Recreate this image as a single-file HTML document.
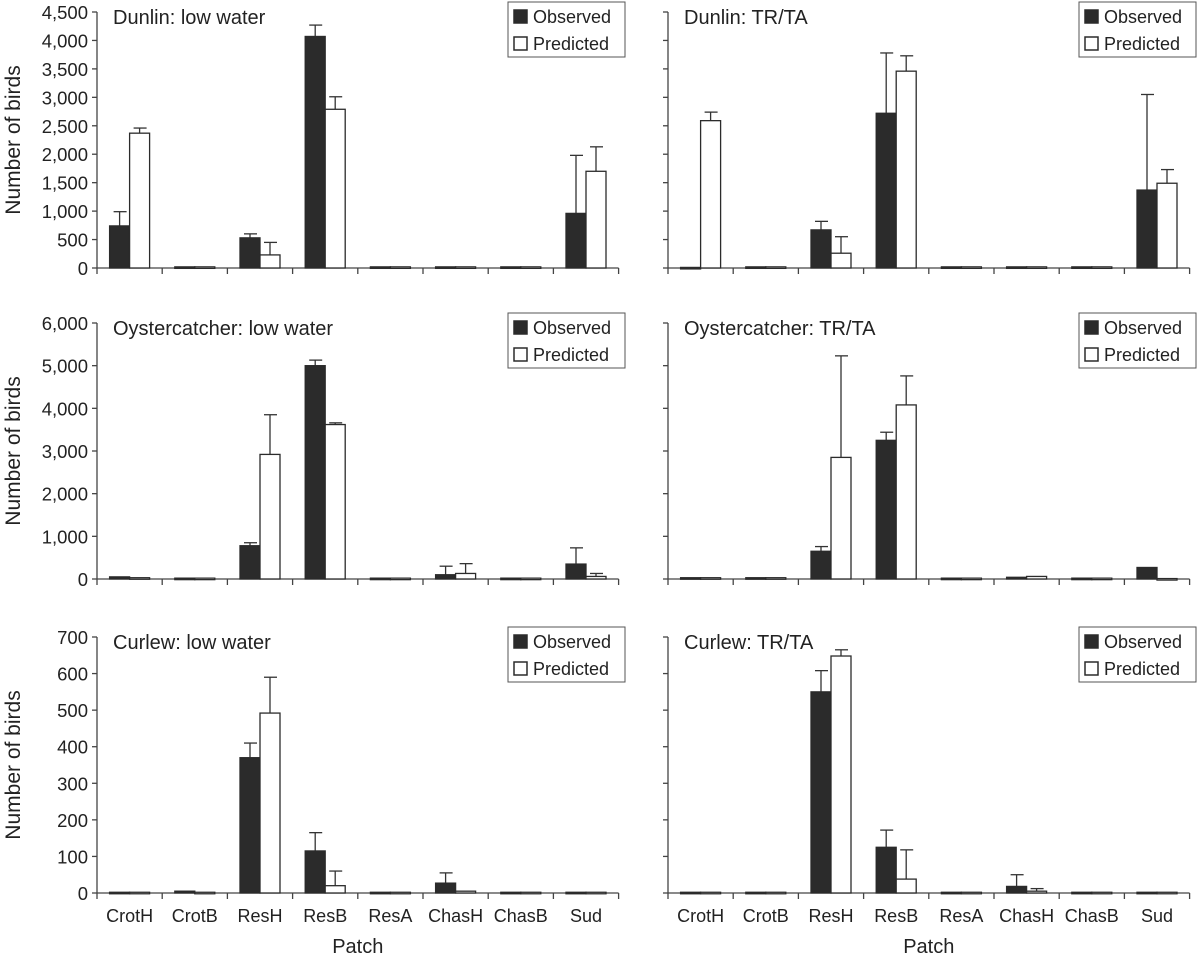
<!DOCTYPE html>
<html><head><meta charset="utf-8"><style>
body{margin:0;background:#fff;font-family:"Liberation Sans",Arial,sans-serif}
svg text{font-family:"Liberation Sans",Arial,sans-serif;fill:#222}
</style></head><body>
<svg id="c" width="1199" height="960"></svg>
<script>
const categories=["CrotH","CrotB","ResH","ResB","ResA","ChasH","ChasB","Sud"];
const dunlinLwObs=[740,20,530,4070,20,20,20,960];
const dunlinLwObsErr=[990,null,600,4270,null,null,null,1980];
const dunlinLwPred=[2370,20,230,2790,20,20,20,1700];
const dunlinLwPredErr=[2460,null,450,3010,null,null,null,2130];
const dunlinTrObs=[10,20,670,2720,20,20,20,1370];
const dunlinTrObsErr=[null,null,820,3780,null,null,null,3050];
const dunlinTrPred=[2590,20,260,3460,20,20,20,1490];
const dunlinTrPredErr=[2740,null,550,3730,null,null,null,1730];
const oysterLwObs=[50,20,780,5000,20,100,20,350];
const oysterLwObsErr=[null,null,850,5130,null,300,null,730];
const oysterLwPred=[30,20,2920,3620,20,130,20,60];
const oysterLwPredErr=[null,null,3850,3660,null,360,null,130];
const oysterTrObs=[30,30,650,3250,20,40,20,270];
const oysterTrObsErr=[null,null,760,3440,null,null,null,null];
const oysterTrPred=[30,30,2850,4080,20,60,20,10];
const oysterTrPredErr=[null,null,5230,4760,null,null,null,null];
const curlewLwObs=[2,5,370,115,2,27,2,2];
const curlewLwObsErr=[null,null,410,165,null,55,null,null];
const curlewLwPred=[2,2,492,20,2,5,2,2];
const curlewLwPredErr=[null,null,590,60,null,null,null,null];
const curlewTrObs=[2,2,550,125,2,18,2,2];
const curlewTrObsErr=[null,null,608,172,null,50,null,null];
const curlewTrPred=[2,2,648,38,2,5,2,2];
const curlewTrPredErr=[null,null,665,118,null,12,null,null];
const dunlinTicks=[0,500,1000,1500,2000,2500,3000,3500,4000,4500];
const oysterTicks=[0,1000,2000,3000,4000,5000,6000];
const curlewTicks=[0,100,200,300,400,500,600,700];

const svg=document.getElementById('c');
const NS='http://www.w3.org/2000/svg';
function mk(tag,attrs,parent){const e=document.createElementNS(NS,tag);for(const k in attrs)e.setAttribute(k,attrs[k]);(parent||svg).appendChild(e);return e;}
function fmt(v){return v.toLocaleString('en-US');}
const panels=[
 {x0:97,y0:268,y1:12,ticks:dunlinTicks,title:"Dunlin: low water",obs:dunlinLwObs,oe:dunlinLwObsErr,pred:dunlinLwPred,pe:dunlinLwPredErr,labels:true,xl:false,name:"dunlin-low-water"},
 {x0:668,y0:268,y1:12,ticks:dunlinTicks,title:"Dunlin: TR/TA",obs:dunlinTrObs,oe:dunlinTrObsErr,pred:dunlinTrPred,pe:dunlinTrPredErr,labels:false,xl:false,name:"dunlin-tr-ta"},
 {x0:97,y0:579,y1:323,ticks:oysterTicks,title:"Oystercatcher: low water",obs:oysterLwObs,oe:oysterLwObsErr,pred:oysterLwPred,pe:oysterLwPredErr,labels:true,xl:false,name:"oystercatcher-low-water"},
 {x0:668,y0:579,y1:323,ticks:oysterTicks,title:"Oystercatcher: TR/TA",obs:oysterTrObs,oe:oysterTrObsErr,pred:oysterTrPred,pe:oysterTrPredErr,labels:false,xl:false,name:"oystercatcher-tr-ta"},
 {x0:97,y0:893,y1:637,ticks:curlewTicks,title:"Curlew: low water",obs:curlewLwObs,oe:curlewLwObsErr,pred:curlewLwPred,pe:curlewLwPredErr,labels:true,xl:true,name:"curlew-low-water"},
 {x0:668,y0:893,y1:637,ticks:curlewTicks,title:"Curlew: TR/TA",obs:curlewTrObs,oe:curlewTrObsErr,pred:curlewTrPred,pe:curlewTrPredErr,labels:false,xl:true,name:"curlew-tr-ta"}
];
const step=65.2,bw=20;
panels.forEach(p=>{
 const g=mk('g',{});
 
 
 const max=p.ticks[p.ticks.length-1];
 const ys=v=>p.y0-(v/max)*(p.y0-p.y1);
 const xc=i=>p.x0+step*(i+0.5);
 const ax=mk('line',{x1:p.x0,y1:p.y1,x2:p.x0,y2:p.y0,stroke:'#444','stroke-width':1.3},g);
 
 
 p.ticks.forEach(t=>{
  mk('line',{x1:p.x0-5,y1:ys(t),x2:p.x0,y2:ys(t),stroke:'#444','stroke-width':1.3},g);
  if(p.labels){const tx=mk('text',{x:p.x0-9,y:ys(t)+7,'text-anchor':'end','font-size':18.5},g);tx.textContent=fmt(t);
   
   }
 });
 const bx=mk('line',{x1:p.x0,y1:p.y0,x2:p.x0+step*8,y2:p.y0,stroke:'#444','stroke-width':1.3},g);
 
 
 for(let i=0;i<=8;i++)mk('line',{x1:p.x0+step*i,y1:p.y0,x2:p.x0+step*i,y2:p.y0+6,stroke:'#444','stroke-width':1.3},g);
 categories.forEach((c,i)=>{
  if(p.xl){const t=mk('text',{x:xc(i),y:p.y0+29,'text-anchor':'middle','font-size':18},g);t.textContent=c;
   
   }
  [[p.obs,p.oe,-bw,'#2b2b2b','observed'],[p.pred,p.pe,0,'#fff','predicted']].forEach(([vals,errs,off,fill,nm])=>{
   const v=vals[i],x=xc(i)+off;
   if(errs[i]!=null){
    mk('line',{x1:x+bw/2,y1:ys(v),x2:x+bw/2,y2:ys(errs[i]),stroke:'#333','stroke-width':1.3},g);
    mk('line',{x1:x+bw/2-6,y1:ys(errs[i]),x2:x+bw/2+7,y2:ys(errs[i]),stroke:'#333','stroke-width':1.3},g);
   }
   const r=mk('rect',{x:x,y:ys(v),width:bw,height:Math.max(p.y0-ys(v),1.5),fill:fill,stroke:'#2b2b2b','stroke-width':1.3},g);
   
   
  });
 });
 const tt=mk('text',{x:p.x0+16,y:p.y1+12,'font-size':20},g);tt.textContent=p.title;
 
 
 const lx=p.x0+411,ly=p.y1-10;
 mk('rect',{x:lx,y:ly,width:117,height:55,fill:'#fff',stroke:'#555','stroke-width':1},g);
 [['Observed','#2b2b2b'],['Predicted','#fff']].forEach(([n,f],k)=>{
  const e=mk('rect',{x:lx+6,y:ly+8+k*27,width:13,height:13,fill:f,stroke:'#2b2b2b','stroke-width':1.5},g);
  
  
  const t=mk('text',{x:lx+25,y:ly+21+k*27,'font-size':18},g);t.textContent=n;
  
  
 });
 if(p.labels){const yt=mk('text',{x:0,y:0,'font-size':21,'text-anchor':'middle',transform:`translate(20,${(p.y0+p.y1)/2}) rotate(-90)`},g);yt.textContent='Number of birds';
  
  }
 if(p.xl){const xt=mk('text',{x:p.x0+step*4,y:953,'font-size':20,'text-anchor':'middle'},g);xt.textContent='Patch';
  
  }
});
</script>
</body></html>
